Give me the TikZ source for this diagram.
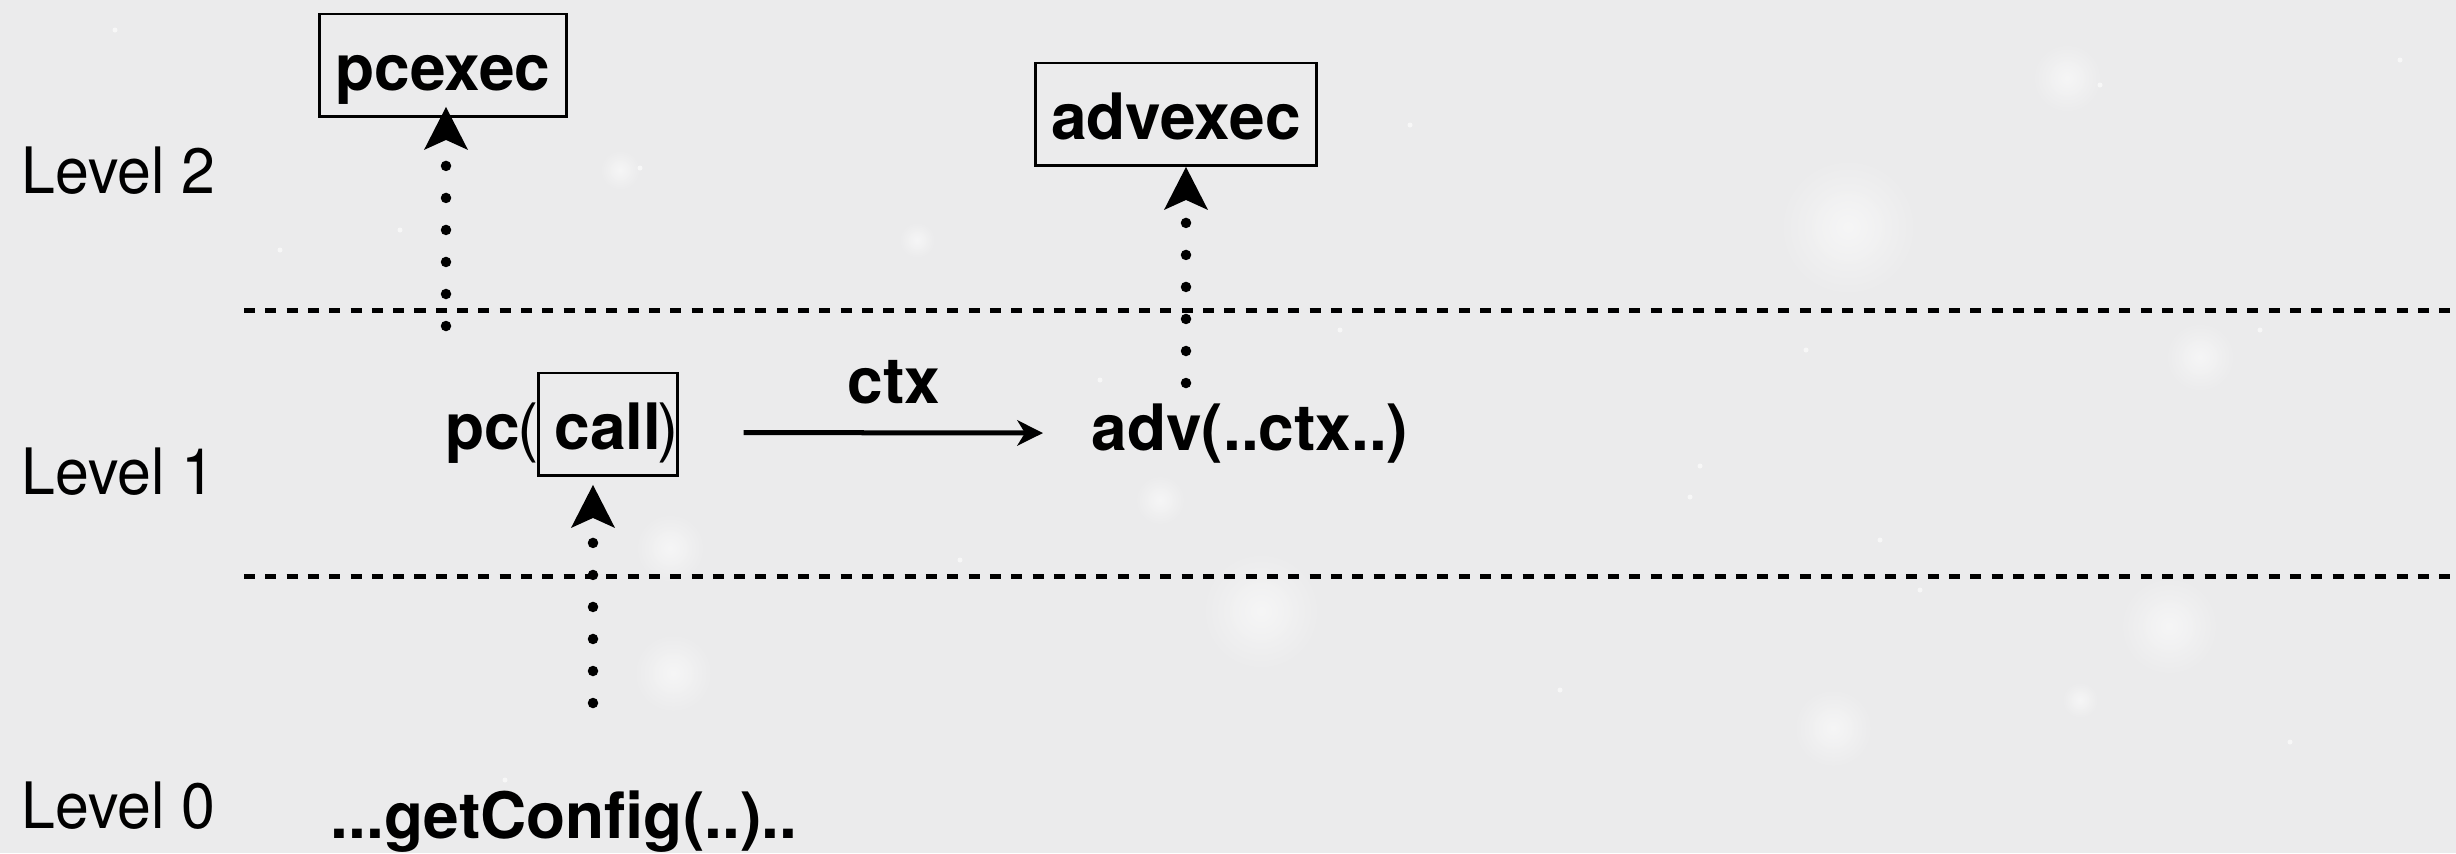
\documentclass[tikz,border=0pt]{standalone}
\usepackage{fontspec}
\setmainfont{TeX Gyre Heros}
\newfontfamily\levelfont[FakeStretch=0.95]{TeX Gyre Heros}
\usetikzlibrary{arrows.meta,shadings}

\definecolor{bgcol}{RGB}{235,235,236}

\begin{document}
\begin{tikzpicture}[x=0.01cm, y=-0.01cm,
  every node/.style={inner sep=0pt},
  code/.style={font=\fontsize{18.2}{22}\selectfont\bfseries},
  thinparen/.style={font=\fontsize{18.2}{22}\selectfont\mdseries},
  level/.style={font=\fontsize{18.2}{22}\selectfont\levelfont, anchor=base west},
  box/.style={code, draw, line width=0.8pt, text height=0.76cm, text depth=0.265cm,
    inner xsep=0.16cm, inner ysep=0pt, anchor=base},
  separator/.style={line width=0.05cm, dash pattern=on 0.11cm off 0.103cm},
  upcall/.style={line width=0.105cm, line cap=round, dash pattern=on 0pt off 0.32cm,
    -{Stealth[length=0.43cm, width=0.44cm, inset=0.1cm, line width=0pt]}},
  flow/.style={line width=0.05cm,
    -{Stealth[length=0.26cm, width=0.26cm, inset=0.08cm, line width=0pt]}},
  glow/.style={inner color=white, outer color=bgcol, opacity=0.55}
]
% canvas
\fill[bgcol] (0,0) rectangle (2456,853);
\useasboundingbox (0,0) rectangle (2456,853);

% faint starfield
\foreach \x/\y/\r in {1848/227/70, 2067/78/35, 2200/357/35, 2169/626/50, 1261/611/60,
                      673/673/40, 670/548/35, 1833/728/40, 620/170/20, 917/240/18,
                      1160/500/25, 2080/700/18}
  \shade[glow] (\x,\y) circle[radius=\r];
\foreach \x/\y in {115/30, 280/250, 400/230, 640/168, 1100/380, 1690/497, 1700/466,
                   1880/540, 1920/590, 2100/85, 1806/350, 2260/330, 1340/330, 960/560,
                   1410/125, 505/780, 1560/690, 2290/742, 2400/60, 190/860}
  \fill[white, opacity=0.6] (\x,\y) circle[radius=2.5];

% level separators
\coordinate (sepA0) at (244,310);
\coordinate (sepA1) at (2456,310);
\coordinate (sepB0) at (244,576);
\coordinate (sepB1) at (2456,576);
\draw[separator] (sepA0) -- (sepA1);
\draw[separator] (sepB0) -- (sepB1);

% level labels
\node[level] (lvl2) at (21,193) {Level 2};
\node[level] (lvl1) at (21,494) {Level 1};
\node[level] (lvl0) at (21,828) {Level 0};

% level 2
\node[box] (pcexec) at (443,90) {pcexec};
\node[box] (advexec) at (1176,139) {advexec};

% level 1
\node[box, anchor=base west] (call) at (537,449) {call};
\node[thinparen, anchor=base east] (lpar) at ([xshift=0.03cm]call.base west) {(};
\node[code, anchor=base east] (pc) at ([xshift=0.04cm]lpar.base west) {pc};
\node[thinparen, anchor=base east] (rpar) at ([xshift=0.01cm]call.base east) {)};
\node[code, anchor=base west] (adv) at (1091,450) {adv(..ctx..)};
\node[code, anchor=base] (ctxlbl) at (894,403) {ctx};

% level 0
\node[code, anchor=base west] (cfg) at (330,838) {...getConfig(..)..};

% connectors
\coordinate (pcup) at (446,326);
\coordinate (advup) at (1186,383);
\coordinate (callup) at (593,703);
\draw[upcall, shorten >=-0.11cm] (pcup) -- (pcup |- pcexec.south);
\draw[upcall] (advup) -- (advup |- advexec.south);
\draw[upcall, shorten >=0.08cm] (callup) -- (callup |- call.south);
\draw[flow, shorten <=0.64cm, shorten >=0.48cm] (rpar.east) -- (adv.west);
\end{tikzpicture}
\end{document}
